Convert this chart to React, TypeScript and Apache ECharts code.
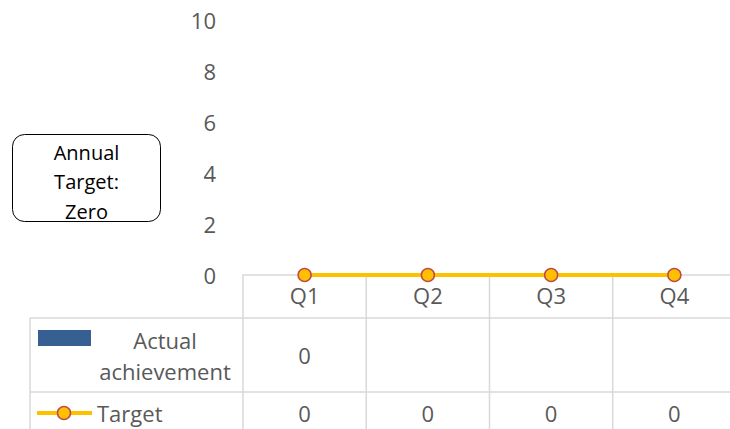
import React, { useEffect, useRef } from "react";
import * as echarts from "echarts";

const categories = ["Q1", "Q2", "Q3", "Q4"];
const actualName = "Actual\nachievement";
const targetName = "Target";
const actualValues: (number | null)[] = [0, null, null, null];
const targetValues: number[] = [0, 0, 0, 0];
const yTicks = { min: 0, max: 10, interval: 2 };
const noteLines = ["Annual", "Target:", "Zero"];

const FONT = "'Open Sans', 'Noto Sans', sans-serif";
const GREY = "#595959";
const LINE = "#D9D9D9";
const BLUE = "#376092";
const GOLD = "#FFC000";
const RED = "#BE4B48";

export default function App() {
  const ref = useRef<HTMLDivElement>(null);
  useEffect(() => {
    document.body.style.margin = "0";
    document.body.style.overflow = "hidden";
    const chart = echarts.init(ref.current!, null, { renderer: "svg" });
    chart.setOption({
      animation: false,
      backgroundColor: "#ffffff",
      grid: { left: 243, top: 20, width: 493, height: 255, containLabel: false },
      xAxis: {
        type: "category",
        data: categories,
        axisLine: { show: true, lineStyle: { color: LINE, width: 1.5 } },
        axisTick: { show: false },
        axisLabel: { color: GREY, fontSize: 22, fontFamily: FONT, margin: 9 },
        splitLine: { show: false },
      },
      yAxis: {
        type: "value",
        min: yTicks.min,
        max: yTicks.max,
        interval: yTicks.interval,
        axisLine: { show: false },
        axisTick: { show: false },
        splitLine: { show: false },
        axisLabel: { color: GREY, fontSize: 22, fontFamily: FONT, margin: 27 },
      },
      series: [
        {
          name: actualName,
          type: "bar",
          data: actualValues,
          itemStyle: { color: BLUE },
          barWidth: "50%",
        },
        {
          name: targetName,
          type: "line",
          data: targetValues,
          lineStyle: { color: GOLD, width: 4 },
          itemStyle: { color: GOLD, borderColor: RED, borderWidth: 1.5 },
          symbol: "circle",
          symbolSize: 13,
          z: 5,
        },
      ],
    });

    const c0 = chart.convertToPixel({ xAxisIndex: 0 }, 0) as number;
    const c1 = chart.convertToPixel({ xAxisIndex: 0 }, 1) as number;
    const band = c1 - c0;
    const y0 = chart.convertToPixel({ yAxisIndex: 0 }, 0) as number;
    const row1Top = y0 + 43;
    const row2Top = y0 + 117;
    const bottom = 440;
    const tableLeft = 30;
    const leftEdge = c0 - band / 2;

    const g: any[] = [];
    const ls = { stroke: LINE, lineWidth: 1.5 };
    g.push({ type: "line", shape: { x1: tableLeft, y1: row1Top, x2: 760, y2: row1Top }, style: ls, silent: true });
    g.push({ type: "line", shape: { x1: tableLeft, y1: row2Top, x2: 760, y2: row2Top }, style: ls, silent: true });
    g.push({ type: "line", shape: { x1: tableLeft, y1: row1Top, x2: tableLeft, y2: bottom }, style: ls, silent: true });
    for (let i = 0; i <= categories.length; i++) {
      const x = leftEdge + band * i;
      g.push({ type: "line", shape: { x1: x, y1: y0, x2: x, y2: bottom }, style: ls, silent: true });
    }
    g.push({ type: "rect", shape: { x: 38, y: row1Top + 12, width: 53, height: 16 }, style: { fill: BLUE }, silent: true });
    g.push({
      type: "text",
      x: 165,
      y: (row1Top + row2Top) / 2,
      style: { text: actualName, fill: GREY, font: `22px ${FONT}`, align: "center", verticalAlign: "middle", lineHeight: 31 },
      silent: true,
    });
    const r2c = row2Top + 21;
    g.push({ type: "line", shape: { x1: 37, y1: r2c, x2: 92, y2: r2c }, style: { stroke: GOLD, lineWidth: 4 }, silent: true });
    g.push({ type: "circle", shape: { cx: 64, cy: r2c, r: 6.5 }, style: { fill: GOLD, stroke: RED, lineWidth: 1.5 }, silent: true });
    g.push({
      type: "text",
      x: 97,
      y: r2c,
      style: { text: targetName, fill: GREY, font: `22px ${FONT}`, align: "left", verticalAlign: "middle" },
      silent: true,
    });
    categories.forEach((_, i) => {
      const cx = chart.convertToPixel({ xAxisIndex: 0 }, i) as number;
      const a = actualValues[i];
      if (a !== null && a !== undefined) {
        g.push({
          type: "text", x: cx, y: (row1Top + row2Top) / 2,
          style: { text: String(a), fill: GREY, font: `22px ${FONT}`, align: "center", verticalAlign: "middle" }, silent: true,
        });
      }
      g.push({
        type: "text", x: cx, y: r2c,
        style: { text: String(targetValues[i]), fill: GREY, font: `22px ${FONT}`, align: "center", verticalAlign: "middle" }, silent: true,
      });
    });
    g.push({
      type: "rect",
      shape: { x: 12.5, y: 134.5, width: 148, height: 87, r: 12 },
      style: { fill: "#ffffff", stroke: "#000000", lineWidth: 1 },
      silent: true,
    });
    noteLines.forEach((t, i) => {
      g.push({
        type: "text", x: 86.5, y: 152 + i * 29.5,
        style: { text: t, fill: "#000000", font: `20px ${FONT}`, align: "center", verticalAlign: "middle" }, silent: true,
      });
    });

    chart.setOption({ graphic: g });
    return () => chart.dispose();
  }, []);
  return (
    <div style={{ width: 730, height: 429, overflow: "hidden" }}>
      <div ref={ref} style={{ width: 740, height: 429 }} />
    </div>
  );
}
